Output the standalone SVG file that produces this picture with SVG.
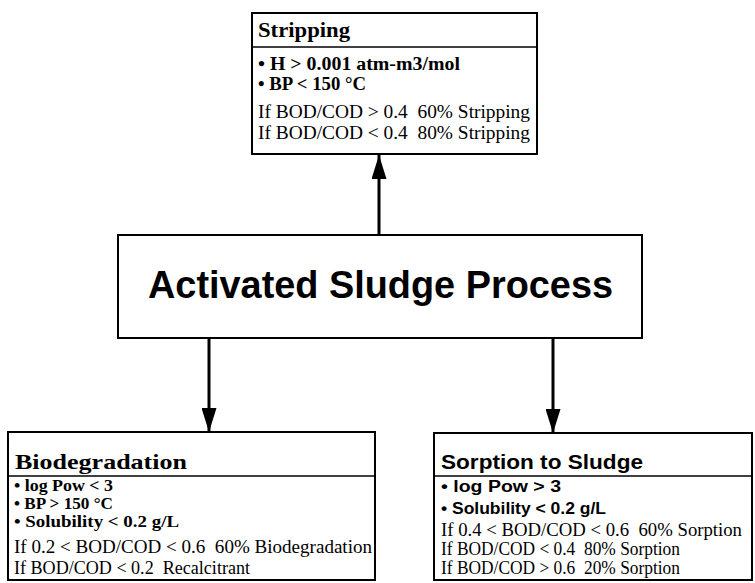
<svg xmlns="http://www.w3.org/2000/svg" width="755" height="583" viewBox="0 0 755 583">
<style>
text{white-space:pre}
.box{fill:#fff;stroke:#000;stroke-width:2}
.sep{stroke:#000;stroke-width:1.5}
.hs{font-family:"Liberation Serif","Times New Roman",serif;font-weight:bold;font-size:21px;fill:#000}
.bs{font-family:"Liberation Serif","Times New Roman",serif;font-weight:bold;font-size:18px;fill:#000}
.bs2{font-family:"Liberation Serif","Times New Roman",serif;font-weight:bold;font-size:17px;fill:#000}
.rs{font-family:"Liberation Serif","Times New Roman",serif;font-size:18px;fill:#000}
.hh{font-family:"Liberation Sans",Arial,sans-serif;font-weight:bold;font-size:20px;fill:#000}
.bh{font-family:"Liberation Sans",Arial,sans-serif;font-weight:bold;font-size:16px;fill:#000}
.title{font-family:"Liberation Sans",Arial,sans-serif;font-weight:bold;font-size:38px;fill:#000}
.conn{stroke:#000;stroke-width:3;fill:none}
</style>
<defs>
<marker id="ah" viewBox="0 0 16 10" refX="16" refY="5" markerWidth="8" markerHeight="5" markerUnits="strokeWidth" orient="auto">
<path d="M0,0 L16,5 L0,10 Z" fill="#000"/>
</marker>
</defs>
<g id="connectors">
<line class="conn" x1="379" y1="235" x2="379" y2="155" marker-end="url(#ah)"/>
<line class="conn" x1="209" y1="338" x2="209" y2="432" marker-end="url(#ah)"/>
<line class="conn" x1="553" y1="338" x2="553" y2="433" marker-end="url(#ah)"/>
</g>
<g id="stripping">
<rect class="box" x="252" y="13" width="285" height="141"/>
<line class="sep" x1="252" y1="47" x2="537" y2="47"/>
<text class="hs" x="258" y="37" textLength="92" lengthAdjust="spacingAndGlyphs">Stripping</text>
<text class="bs" x="258" y="70" textLength="202" lengthAdjust="spacingAndGlyphs">• H &gt; 0.001 atm-m3/mol</text>
<text class="bs" x="258" y="90" textLength="108" lengthAdjust="spacingAndGlyphs">• BP &lt; 150 °C</text>
<text class="rs" x="258" y="118" textLength="272" lengthAdjust="spacingAndGlyphs">If BOD/COD &gt; 0.4  60% Stripping</text>
<text class="rs" x="258" y="139" textLength="272" lengthAdjust="spacingAndGlyphs">If BOD/COD &lt; 0.4  80% Stripping</text>
</g>
<g id="activated-sludge">
<rect class="box" x="118" y="235" width="524" height="103"/>
<text class="title" x="148" y="298" textLength="465" lengthAdjust="spacingAndGlyphs">Activated Sludge Process</text>
</g>
<g id="biodegradation">
<rect class="box" x="8" y="432" width="367" height="148"/>
<line class="sep" x1="8" y1="476" x2="375" y2="476"/>
<text class="hs" x="15" y="469" textLength="172" lengthAdjust="spacingAndGlyphs">Biodegradation</text>
<text class="bs2" x="14" y="491" textLength="99" lengthAdjust="spacingAndGlyphs">• log Pow &lt; 3</text>
<text class="bs2" x="14" y="509" textLength="99" lengthAdjust="spacingAndGlyphs">• BP &gt; 150 °C</text>
<text class="bs2" x="14" y="527" textLength="165" lengthAdjust="spacingAndGlyphs">• Solubility &lt; 0.2 g/L</text>
<text class="rs" x="14" y="553" textLength="358" lengthAdjust="spacingAndGlyphs">If 0.2 &lt; BOD/COD &lt; 0.6  60% Biodegradation</text>
<text class="rs" x="14" y="574" textLength="236" lengthAdjust="spacingAndGlyphs">If BOD/COD &lt; 0.2  Recalcitrant</text>
</g>
<g id="sorption">
<rect class="box" x="434" y="433" width="318" height="147"/>
<line class="sep" x1="434" y1="476" x2="752" y2="476"/>
<text class="hh" x="441" y="469" textLength="202" lengthAdjust="spacingAndGlyphs">Sorption to Sludge</text>
<text class="bh" x="441" y="492" textLength="120" lengthAdjust="spacingAndGlyphs">• log Pow &gt; 3</text>
<text class="bh" x="441" y="514" textLength="165" lengthAdjust="spacingAndGlyphs">• Solubility &lt; 0.2 g/L</text>
<text class="rs" x="441" y="536" textLength="301" lengthAdjust="spacingAndGlyphs">If 0.4 &lt; BOD/COD &lt; 0.6  60% Sorption</text>
<text class="rs" x="441" y="555" textLength="239" lengthAdjust="spacingAndGlyphs">If BOD/COD &lt; 0.4  80% Sorption</text>
<text class="rs" x="441" y="574" textLength="239" lengthAdjust="spacingAndGlyphs">If BOD/COD &gt; 0.6  20% Sorption</text>
</g>
</svg>
